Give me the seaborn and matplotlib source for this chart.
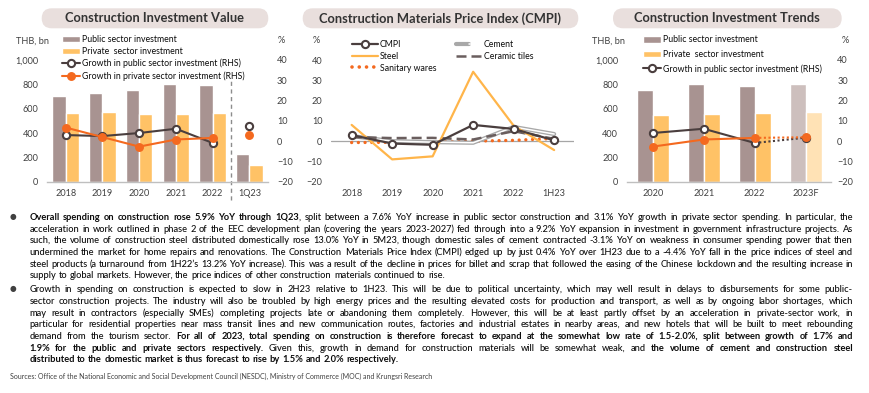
import math
import numpy as np
import pandas as pd
import matplotlib
matplotlib.use("Agg")
import matplotlib.pyplot as plt
import seaborn as sns
from matplotlib.patches import FancyBboxPatch, Patch
from matplotlib.lines import Line2D
from matplotlib.transforms import IdentityTransform
from matplotlib.legend_handler import HandlerTuple
from matplotlib.font_manager import FontProperties
from matplotlib.ticker import FuncFormatter

# ---------------- data ----------------
years1 = ['2018', '2019', '2020', '2021', '2022', '1Q23']
public1 = [704, 726, 753, 800, 793, 225]
private1 = [562, 570, 553, 556, 567, 134]
g_public1 = [3.0, 2.5, 4.0, 6.1, -0.9, 7.6]
g_private1 = [6.7, 2.0, -2.7, 0.8, 1.6, 3.1]

years2 = ['2018', '2019', '2020', '2021', '2022', '1H23']
cmpi = [3.0, -1.2, -1.8, 8.0, 6.0, 0.4]
steel = [8.0, -9.0, -7.5, 34.2, 7.6, -4.4]
cement = [2.5, 0.0, -0.5, -0.8, 7.0, 3.5]
ceramic = [2.0, 1.5, 1.6, 0.8, 4.9, 1.1]
sanitary = [-0.7, -0.6, -0.3, 0.0, 0.4, 1.3]

years3 = ['2020', '2021', '2022', '2023F']
public3 = [753, 800, 790, 803]
private3 = [551, 556, 564, 575]
g_public3 = [4.0, 6.1, -0.9, 1.7]
g_private3 = [-2.7, 0.8, 1.6, 1.9]

lab_pub = 'Public sector investment'
lab_pri = 'Private  sector investment'
lab_gpub = 'Growth in public sector investment (RHS)'
lab_gpri = 'Growth in private sector investment (RHS)'

titles = ['Construction Investment Value', 'Construction Materials Price Index (CMPI)',
          'Construction Investment Trends']

para1 = [
    "**Overall spending on construction rose 5.9% YoY through 1Q23**, split between a 7.6% YoY increase in public sector construction and 3.1% YoY growth in private sector spending. In particular, the",
    "acceleration in work outlined in phase 2 of the EEC development plan (covering the years 2023-2027) fed through into a 9.2% YoY expansion in investment in government infrastructure projects. As",
    "such, the volume of construction steel distributed domestically rose 13.0% YoY in 5M23, though domestic sales of cement contracted -3.1% YoY on weakness in consumer spending power that then",
    "undermined the market for home repairs and renovations. The Construction Materials Price Index (CMPI) edged up by just 0.4% YoY over 1H23 due to a -4.4% YoY fall in the price indices of steel and",
    "steel products (a turnaround from 1H22\u2019s 13.2% YoY increase). This was a result of the decline in prices for billet and scrap that followed the easing of the Chinese lockdown and the resulting increase in",
    "supply to global markets. However, the price indices of other construction materials continued to rise.",
]
para2 = [
    "Growth in spending on construction is expected to slow in 2H23 relative to 1H23. This will be due to political uncertainty, which may well result in delays to disbursements for some public-",
    "sector construction projects. The industry will also be troubled by high energy prices and the resulting elevated costs for production and transport, as well as by ongoing labor shortages, which",
    "may result in contractors (especially SMEs) completing projects late or abandoning them completely. However, this will be at least partly offset by an acceleration in private-sector work, in",
    "particular for residential properties near mass transit lines and new communication routes, factories and industrial estates in nearby areas, and new hotels that will be built to meet rebounding",
    "demand from the tourism sector. **For all of 2023, total spending on construction is therefore forecast to expand at the somewhat low rate of 1.5-2.0%, split between growth of 1.7% and**",
    "**1.9% for the public and private sectors respectively.** Given this, growth in demand for construction materials will be somewhat weak, and **the volume of cement and construction steel**",
    "**distributed to the domestic market is thus forecast to rise by 1.5% and 2.0% respectively.**",
]
sources = ("Sources: Office of the National Economic and Social Development Council (NESDC), "
           "Ministry of Commerce (MOC) and Krungsri Research")

# ---------------- style ----------------
sns.set_theme(style='white')
FONT = ['Lato', 'DejaVu Sans']
plt.rcParams['font.family'] = FONT
PUB = '#a89391'
PUB_L = '#cdbfbd'
PRI = '#ffc266'
PRI_L = '#ffe2b5'
ORANGE = '#f4691f'
DARK = '#4a3e3e'
STEEL = '#ffb54a'
CEMENT = '#a8a8a8'
CERAMIC = '#6a5e5e'
TITLEBG = '#e9dfdd'
TICK = '#404040'
TXT = '#0c0c0c'
BASE = '#bfbfbf'
TS = 6.6   # tick font size
LS = 6.3   # legend font size
REG = 500  # weight of regular body text

W, H = 870, 393
fig = plt.figure(figsize=(W / 100, H / 100), dpi=100)
fig.patch.set_facecolor('white')


def rect(x0, x1, ytop, ybot):
    return [x0 / W, 1 - ybot / H, (x1 - x0) / W, (ybot - ytop) / H]


def fx(x):
    return x / W


def fy(y):
    return 1 - y / H


def style_axis(ax, left=True, pad_l=6.5, pad_r=6.5):
    for s in ax.spines.values():
        s.set_visible(False)
    ax.tick_params(axis='both', length=0, labelsize=TS, labelcolor=TICK)
    ax.tick_params(axis='x', pad=5.4)
    ax.tick_params(axis='y', pad=pad_l if left else pad_r)
    ax.set_xlabel('')
    ax.set_ylabel('')
    ax.grid(False)
    ax.set_facecolor('none')


def title_box(x0, x1, text):
    y0, y1 = 8.3, 28.3
    fig.add_artist(FancyBboxPatch((x0, H - y1), x1 - x0, y1 - y0,
                                  boxstyle='round,pad=0,rounding_size=10',
                                  transform=IdentityTransform(), facecolor=TITLEBG,
                                  edgecolor='none', zorder=0))
    fig.text(fx((x0 + x1) / 2), fy(18.4), text, ha='center', va='center',
             fontsize=9.3, fontweight='bold', color='#333333')


thou = FuncFormatter(lambda v, p: f'{int(v):,}')

# ================= Chart 1 =================
ax1 = fig.add_axes(rect(47.3, 267.8, 60, 181.7))
df1 = pd.DataFrame({'year': years1 * 2, 'value': public1 + private1,
                    'sector': [lab_pub] * len(years1) + [lab_pri] * len(years1)})
sns.barplot(data=df1, x='year', y='value', hue='sector', palette=[PUB, PRI],
            width=0.72, saturation=1, ax=ax1, legend=False)
style_axis(ax1)
ax1.set_ylim(0, 1000)
ax1.set_xlim(-0.5, len(years1) - 0.5)
ax1.set_yticks(range(0, 1001, 200))
ax1.yaxis.set_major_formatter(thou)
ax1.spines['bottom'].set_visible(True)
ax1.spines['bottom'].set_color(BASE)
ax1.spines['bottom'].set_linewidth(1.0)
ax1.axvline(4.5, ymin=-0.15, ymax=0.85, color='#8c8c8c', lw=1.0,
            ls=(0, (3, 2.5)), clip_on=False)

ax1r = ax1.twinx()
style_axis(ax1r, left=False)
ax1r.set_ylim(-20, 40)
ax1r.set_yticks(range(-20, 41, 10))
xi = np.arange(len(years1))
mk_pub = dict(marker='o', markersize=5.2, markerfacecolor='white',
              markeredgecolor=DARK, markeredgewidth=1.5)
mk_pri = dict(marker='o', markersize=5.4, markerfacecolor=ORANGE,
              markeredgecolor=ORANGE, markeredgewidth=1.0)
sns.lineplot(x=xi[:5], y=g_public1[:5], ax=ax1r, color=DARK, lw=1.5, **mk_pub)
sns.lineplot(x=xi[:5], y=g_private1[:5], ax=ax1r, color=ORANGE, lw=1.5, **mk_pri)
sns.lineplot(x=xi[5:], y=g_public1[5:], ax=ax1r, color=DARK, lw=1.5, **mk_pub)
sns.lineplot(x=xi[5:], y=g_private1[5:], ax=ax1r, color=ORANGE, lw=1.5, **mk_pri)
ax1r.set_xlim(-0.5, len(years1) - 0.5)

h1 = [Patch(facecolor=PUB), Patch(facecolor=PRI),
      Line2D([], [], color=DARK, lw=1.5, **mk_pub),
      Line2D([], [], color=ORANGE, lw=1.5, **mk_pri)]
fig.legend(h1, [lab_pub, lab_pri, lab_gpub, lab_gpri], loc='upper left',
           bbox_to_anchor=(fx(62), fy(35.3)), frameon=False, fontsize=LS,
           borderpad=0, borderaxespad=0, handlelength=2.0, handleheight=0.7,
           handletextpad=0.25, labelspacing=0.32, labelcolor=TXT)

# ================= Chart 2 =================
ax2 = fig.add_axes(rect(331.4, 574.4, 60, 181.7))
xi2 = np.arange(len(years2))
ax2.axhline(0, color='#a6a6a6', lw=0.9, zorder=0)
sns.lineplot(x=xi2, y=sanitary, ax=ax2, color=ORANGE, lw=2.4,
             ls=(0, (0.01, 2.0)), dash_capstyle='round')
sns.lineplot(x=xi2, y=cement, ax=ax2, color=CEMENT, lw=3.0)
sns.lineplot(x=xi2, y=cement, ax=ax2, color='white', lw=1.1)
sns.lineplot(x=xi2, y=ceramic, ax=ax2, color=CERAMIC, lw=1.8, ls=(0, (4, 2)))
sns.lineplot(x=xi2, y=steel, ax=ax2, color=STEEL, lw=1.6)
sns.lineplot(x=xi2, y=cmpi, ax=ax2, color=DARK, lw=1.6, **mk_pub)
style_axis(ax2)
ax2.set_ylim(-20, 40)
ax2.set_yticks(range(-20, 41, 10))
ax2.set_xlim(-0.5, len(years2) - 0.5)
ax2.set_xticks(xi2)
ax2.set_xticklabels(years2)

hA = [Line2D([], [], color=DARK, lw=1.6, **mk_pub),
      Line2D([], [], color=STEEL, lw=1.6),
      Line2D([], [], color=ORANGE, lw=2.6, ls=(0, (0.01, 2.0)), dash_capstyle='round')]
fig.legend(hA, ['CMPI', 'Steel', 'Sanitary wares'], loc='upper left',
           bbox_to_anchor=(fx(351.7), fy(39.6)), frameon=False, fontsize=LS,
           borderpad=0, borderaxespad=0, handlelength=3.0,
           handletextpad=0.2, labelspacing=0.34, labelcolor=TXT)
hB = [(Line2D([], [], color=CEMENT, lw=3.0), Line2D([], [], color='white', lw=1.1)),
      Line2D([], [], color=CERAMIC, lw=1.8, ls=(0, (4, 2)))]
fig.legend(hB, ['Cement', 'Ceramic tiles'], loc='upper left',
           bbox_to_anchor=(fx(456.5), fy(39.6)), frameon=False, fontsize=LS,
           borderpad=0, borderaxespad=0, handlelength=2.9,
           handletextpad=0.2, labelspacing=0.34, labelcolor=TXT,
           handler_map={tuple: HandlerTuple(ndivide=None, pad=0)})

# ================= Chart 3 =================
ax3 = fig.add_axes(rect(627.2, 831.2, 60, 181.7))
df3 = pd.DataFrame({'year': years3 * 2, 'value': public3 + private3,
                    'sector': [lab_pub] * len(years3) + [lab_pri] * len(years3)})
sns.barplot(data=df3, x='year', y='value', hue='sector', palette=[PUB, PRI],
            width=0.63, saturation=1, ax=ax3, legend=False)
ax3.containers[0][-1].set_facecolor(PUB_L)
ax3.containers[1][-1].set_facecolor(PRI_L)
style_axis(ax3)
ax3.set_ylim(0, 1000)
ax3.set_xlim(-0.5, len(years3) - 0.5)
ax3.set_yticks(range(0, 1001, 200))
ax3.yaxis.set_major_formatter(thou)
ax3.spines['bottom'].set_visible(True)
ax3.spines['bottom'].set_color(BASE)
ax3.spines['bottom'].set_linewidth(1.0)

ax3r = ax3.twinx()
style_axis(ax3r, left=False, pad_r=4.3)
ax3r.set_ylim(-20, 40)
ax3r.set_yticks(range(-20, 41, 10))
xi3 = np.arange(len(years3))
sns.lineplot(x=xi3[2:], y=g_public3[2:], ax=ax3r, color=DARK, lw=1.5, ls=(0, (1, 1.2)))
sns.lineplot(x=xi3[2:], y=g_private3[2:], ax=ax3r, color=ORANGE, lw=1.5, ls=(0, (1, 1.2)))
sns.lineplot(x=xi3[:3], y=g_public3[:3], ax=ax3r, color=DARK, lw=1.5, **mk_pub)
sns.lineplot(x=xi3[3:], y=g_public3[3:], ax=ax3r, color=DARK, lw=1.5, **mk_pub)
sns.lineplot(x=xi3[:3], y=g_private3[:3], ax=ax3r, color=ORANGE, lw=1.5, **mk_pri)
sns.lineplot(x=xi3[3:], y=g_private3[3:], ax=ax3r, color=ORANGE, lw=1.5, **mk_pri)
ax3r.set_xlim(-0.5, len(years3) - 0.5)

h3 = [Patch(facecolor=PUB), Patch(facecolor=PRI),
      Line2D([], [], color=DARK, lw=1.5, **mk_pub)]
fig.legend(h3, [lab_pub, lab_pri, lab_gpub], loc='upper left',
           bbox_to_anchor=(fx(642.7), fy(35.5)), frameon=False, fontsize=LS,
           borderpad=0, borderaxespad=0, handlelength=2.1, handleheight=0.7,
           handletextpad=0.25, labelspacing=0.6, labelcolor=TXT)

# axis unit labels
for (x, s, ha) in [(16, 'THB, bn', 'left'), (281.7, '%', 'center'),
                   (316, '%', 'center'), (591.7, 'THB, bn', 'left'), (845, '%', 'center')]:
    fig.text(fx(x), fy(40.7), s, ha=ha, va='center', fontsize=TS, color=TICK)

# titles
title_box(41.7, 268.3, titles[0])
title_box(302.7, 578.3, titles[1])
title_box(613.0, 841.7, titles[2])

# ================= Body text =================
renderer = fig.canvas.get_renderer()


def wt(bold):
    return 'bold' if bold else REG


def metrics(s, size, bold):
    fp = FontProperties(family=FONT, size=size, weight=wt(bold))
    return renderer.get_text_width_height_descent(s, fp, ismath=False)


def measure(s, size, bold):
    return metrics(s, size, bold)[0]


def parse(line):
    words, cur = [], []
    for k, part in enumerate(line.split('**')):
        b = (k % 2 == 1)
        for j, p in enumerate(part.split(' ')):
            if j > 0 and cur:
                words.append(cur)
                cur = []
            if p:
                cur.append((p, b))
    if cur:
        words.append(cur)
    return words


X0, X1 = 29.3, 853.0


def space_w(size):
    return measure('a a', size, False) - measure('aa', size, False)


def natural_width(line, size):
    ws = parse(line)
    return sum(measure(s, size, b) for w in ws for s, b in w) + space_w(size) * (len(ws) - 1)


just_lines = para1[:-1] + para2[:-1]
maxw = max(natural_width(l, 10) for l in just_lines)
BODY = 10 * (X1 - X0) * 0.995 / maxw


def draw_line(line, yc, size, justify):
    ws = parse(line)
    meas = [[(s, b) + tuple(metrics(s, size, b)) for s, b in w] for w in ws]
    total = sum(p[2] for w in meas for p in w)
    gap = (X1 - X0 - total) / (len(meas) - 1) if (justify and len(meas) > 1) else space_w(size)
    x = X0
    T = float(round(yc + 3.3))
    for w in meas:
        for s, b, wd, hh, dd in w:
            # keep every word on the same pixel baseline despite glyph-bitmap snapping
            k = math.floor(hh + 1e-9) - math.floor(hh - dd + 1e-9)
            ypix = T + k - dd
            fig.text(fx(x), (H - ypix) / H, s, fontsize=size, fontweight=wt(b),
                     ha='left', va='baseline', color=TXT)
            x += wd
        x += gap


pitch = 11.65
for i, line in enumerate(para1):
    draw_line(line, 216.7 + i * pitch, BODY, i < len(para1) - 1)
for i, line in enumerate(para2):
    draw_line(line, 289.0 + i * pitch, BODY, i < len(para2) - 1)
for yb in (217.0, 289.0):
    fig.text(fx(13.3), fy(yb), '\u25CF', ha='center', va='center', fontsize=5.5,
             color='#404040', family=['DejaVu Sans'])

src_size = 10 * (433 - 10) / measure(sources, 10, False)
fig.text(fx(10), fy(378.5), sources, ha='left', va='baseline', fontsize=src_size, color='#404040')

fig.savefig('out.png', dpi=100)
